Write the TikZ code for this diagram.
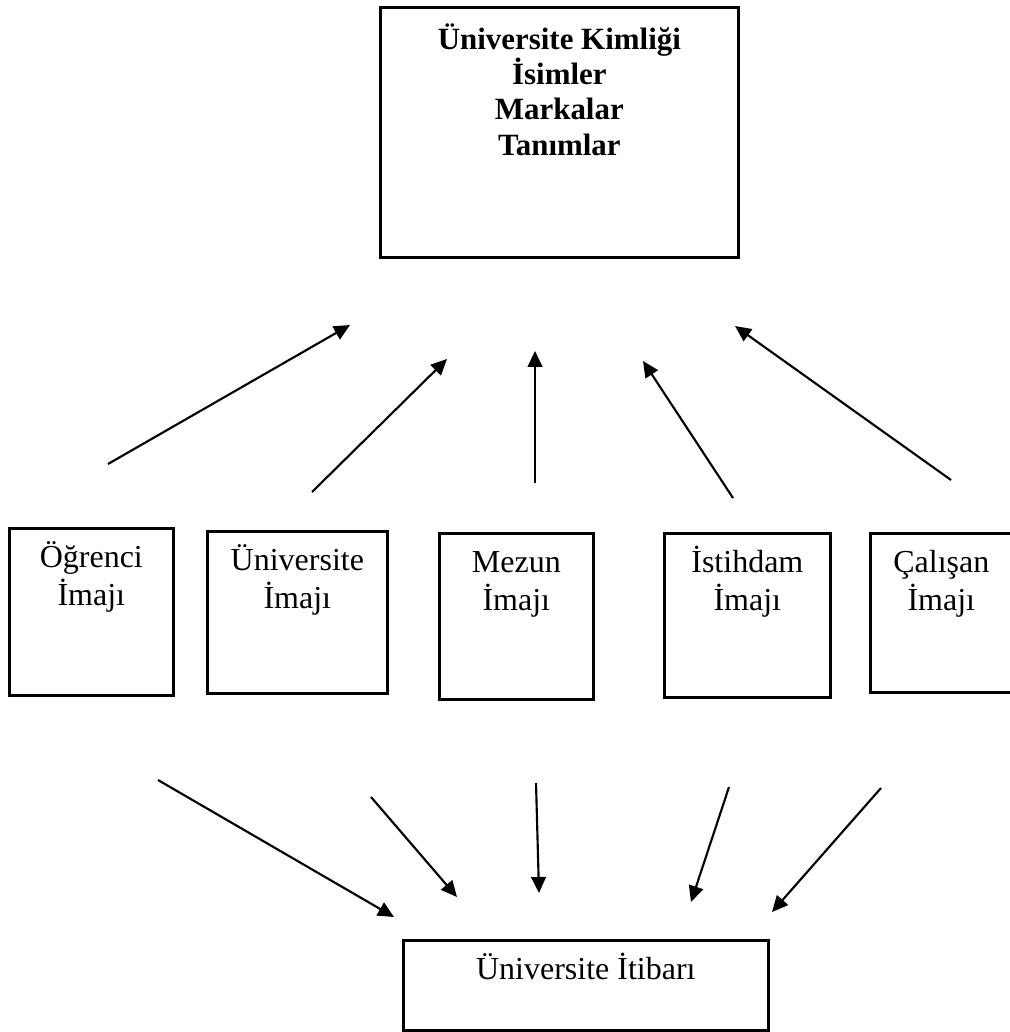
\documentclass[tikz,border=0pt]{standalone}
\usepackage{fontspec}
\setmainfont{Liberation Serif}
\usetikzlibrary{arrows.meta}
\def\u{0.375pt}
\tikzset{
	kutu/.style={draw, line width=1pt, inner sep=0pt, anchor=north west},
	yazi/.style={anchor=base, inner sep=0pt, align=center, yshift=-15pt, font=\fontsize{12}{14.4}\selectfont},
	ikisatir/.style={yazi, yshift=-14.4pt},
	kalin/.style={yazi, yshift=-41pt, font=\fontsize{11.6}{13.25}\selectfont\bfseries},
	ok/.style={line width=0.8pt, -{Triangle[length=6pt, width=5.5pt]}}
}
\begin{document}
\begin{tikzpicture}[x=\u, y=-\u]
			%%%%% START %%%%%
			\useasboundingbox (0, 0) rectangle (1009, 1032);
			
			\node[kutu, minimum width=358*\u, minimum height=250*\u, label={[kalin]north:{Üniversite Kimliği\\İsimler\\Markalar\\Tanımlar}}] (kimlik) at (379, 6) {};
			
			\node[kutu, minimum width=164*\u, minimum height=167*\u, label={[ikisatir]north:{Öğrenci\\İmajı}}] (ogrenci) at (8, 527) {};
			\node[kutu, minimum width=180*\u, minimum height=162*\u, label={[ikisatir]north:{Üniversite\\İmajı}}] (universite) at (206, 530) {};
			\node[kutu, minimum width=154*\u, minimum height=166*\u, label={[ikisatir]north:{Mezun\\İmajı}}] (mezun) at (438, 532) {};
			\node[kutu, minimum width=166*\u, minimum height=164*\u, label={[ikisatir]north:{İstihdam\\İmajı}}] (istihdam) at (663, 532) {};
			\node[kutu, minimum width=142*\u, minimum height=159*\u, label={[ikisatir]north:{Çalışan\\İmajı}}] (calisan) at (869, 532) {};
			
			\node[kutu, minimum width=365*\u, minimum height=90*\u, label={[yazi]north:{Üniversite İtibarı}}] (itibar) at (402, 939) {};
			
			% yukari oklar
			\coordinate (u1a) at (108, 464); \coordinate (u1b) at (350, 325);
			\coordinate (u2a) at (312, 492); \coordinate (u2b) at (447, 359);
			\coordinate (u3a) at (535, 483); \coordinate (u3b) at (535, 351);
			\coordinate (u4a) at (733, 498); \coordinate (u4b) at (643, 361);
			\coordinate (u5a) at (951, 480); \coordinate (u5b) at (735, 326);
			\draw[ok] (u1a) -- (u1b);
			\draw[ok] (u2a) -- (u2b);
			\draw[ok] (u3a) -- (u3b);
			\draw[ok] (u4a) -- (u4b);
			\draw[ok] (u5a) -- (u5b);
			
			% asagi oklar
			\coordinate (d1a) at (158, 780); \coordinate (d1b) at (394, 917);
			\coordinate (d2a) at (371, 797); \coordinate (d2b) at (457, 897);
			\coordinate (d3a) at (536, 783); \coordinate (d3b) at (539, 893);
			\coordinate (d4a) at (729, 787); \coordinate (d4b) at (691, 902);
			\coordinate (d5a) at (881, 788); \coordinate (d5b) at (772, 912);
			\draw[ok] (d1a) -- (d1b);
			\draw[ok] (d2a) -- (d2b);
			\draw[ok] (d3a) -- (d3b);
			\draw[ok] (d4a) -- (d4b);
			\draw[ok] (d5a) -- (d5b);
			
			%%%%% END %%%%%
\end{tikzpicture}
\end{document}
